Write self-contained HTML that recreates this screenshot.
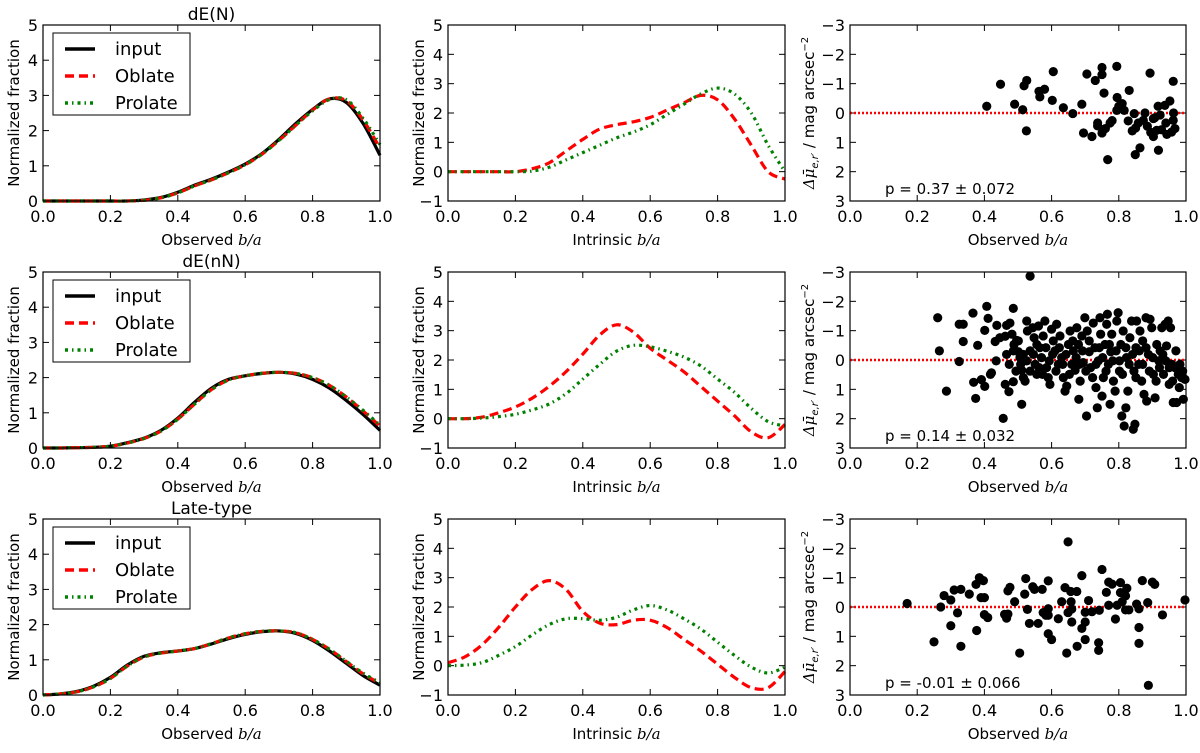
<!DOCTYPE html>
<html><head><meta charset="utf-8"><style>
html,body{margin:0;padding:0;background:#fff}
svg{display:block}
text{font-family:"DejaVu Sans","Liberation Sans",sans-serif;fill:#000}
</style></head><body>
<svg id="fig" width="1200" height="753" viewBox="0 0 1200 753" xmlns="http://www.w3.org/2000/svg"></svg>
<script>
// ---- data ----
const gridX = [0,0.05,0.1,0.15,0.2,0.25,0.3,0.35,0.4,0.45,0.5,0.55,0.6,0.65,0.7,0.75,0.8,0.85,0.9,0.95,1.0];
const xTicks = [0.0,0.2,0.4,0.6,0.8,1.0];
const xTickLabels = ["0.0","0.2","0.4","0.6","0.8","1.0"];
const rowTitles = ["dE(N)","dE(nN)","Late-type"];
const pLabels = ["p = 0.37 \u00b1 0.072","p = 0.14 \u00b1 0.032","p = -0.01 \u00b1 0.066"];
// observed b/a distributions
const obs1Input = [0,0,0,0,0,0,0.03,0.1,0.25,0.45,0.62,0.82,1.05,1.35,1.75,2.2,2.6,2.9,2.8,2.2,1.3];
const obs1Oblate = [0,0,0,0,0,0,0.02,0.09,0.23,0.43,0.6,0.8,1.03,1.33,1.72,2.15,2.58,2.9,2.85,2.3,1.5];
const obs1Prolate = [0,0,0,0,0,0,0.02,0.09,0.23,0.43,0.6,0.8,1.03,1.33,1.72,2.15,2.56,2.88,2.88,2.35,1.6];
const obs2Input = [0,0,0.01,0.02,0.05,0.15,0.28,0.5,0.85,1.3,1.7,1.95,2.05,2.12,2.15,2.1,1.95,1.7,1.35,0.95,0.5];
const obs2Oblate = [0,0,0.01,0.02,0.05,0.14,0.27,0.48,0.82,1.25,1.66,1.93,2.05,2.12,2.15,2.12,2.0,1.78,1.45,1.05,0.62];
const obs2Prolate = [0,0,0.01,0.02,0.05,0.14,0.27,0.48,0.82,1.25,1.66,1.93,2.05,2.12,2.15,2.12,2.0,1.78,1.45,1.07,0.65];
const obs3Input = [0,0.03,0.1,0.25,0.5,0.85,1.1,1.2,1.25,1.32,1.45,1.6,1.72,1.8,1.82,1.75,1.55,1.25,0.9,0.55,0.28];
const obs3Oblate = [0,0.03,0.09,0.23,0.47,0.82,1.08,1.19,1.25,1.32,1.46,1.62,1.74,1.81,1.82,1.77,1.58,1.3,0.95,0.6,0.33];
const obs3Prolate = [0,0.03,0.09,0.23,0.47,0.82,1.08,1.19,1.25,1.32,1.46,1.62,1.74,1.81,1.82,1.77,1.58,1.3,0.96,0.62,0.35];
// intrinsic b/a distributions
const int1Oblate = [0,0,0,0,0,0.1,0.3,0.7,1.1,1.45,1.6,1.7,1.85,2.1,2.35,2.6,2.45,1.8,0.9,0.0,-0.25];
const int1Prolate = [0,0,0,0,0,0.02,0.15,0.4,0.65,0.9,1.15,1.35,1.6,1.95,2.3,2.65,2.85,2.65,2.0,0.9,0.0];
const int2Oblate = [0,0,0.05,0.2,0.4,0.7,1.1,1.6,2.2,2.85,3.2,2.95,2.4,2.0,1.6,1.1,0.6,0.1,-0.45,-0.65,-0.2];
const int2Prolate = [0,0,0.02,0.07,0.15,0.3,0.5,0.85,1.35,1.85,2.3,2.5,2.45,2.3,2.1,1.8,1.35,0.9,0.35,-0.1,-0.25];
const int3Oblate = [0.1,0.3,0.7,1.3,2.0,2.6,2.9,2.6,1.85,1.45,1.4,1.55,1.55,1.3,0.9,0.5,0.05,-0.4,-0.75,-0.75,-0.2];
const int3Prolate = [0,0.02,0.1,0.35,0.65,1.05,1.4,1.6,1.6,1.55,1.65,1.9,2.05,1.9,1.6,1.25,0.8,0.35,-0.05,-0.25,-0.05];
// scatter: residual surface brightness
const sc1X = [0.407,0.448,0.49,0.514,0.518,0.526,0.525,0.5625,0.565,0.579,0.602,0.605,0.635,0.663,0.69,0.695,0.705,0.72,0.73,0.737,0.737,0.75,0.75,0.75,0.756,0.76,0.767,0.774,0.78,0.794,0.795,0.794,0.8,0.81,0.816,0.831,0.828,0.84,0.846,0.85,0.849,0.863,0.858,0.873,0.885,0.893,0.895,0.903,0.907,0.917,0.913,0.918,0.923,0.927,0.937,0.94,0.943,0.952,0.957,0.962,0.963,0.962,0.967,0.878,0.903];
const sc1Y = [-0.23,-0.98,-0.3,-0.11,-0.93,-1.11,0.61,-0.74,-0.55,-0.81,-0.43,-1.41,-0.18,0.02,-0.3,0.68,-1.33,0.8,-1.11,0.44,0.34,-1.31,-1.55,0.68,-0.68,0.53,1.59,0.34,0.26,-1.59,-0.53,-0.09,-0.23,-0.32,-0.09,-0.77,0.27,0.61,0.02,0.51,1.42,1.19,0.34,0.25,0.45,-1.36,0.66,0.8,0.16,-0.23,0.59,1.27,0.07,0.57,-0.26,0.34,0.73,-0.41,0.65,-1.08,0,0.25,0.53,0,0.19];
const sc2X = [0.261,0.266,0.287,0.325,0.337,0.337,0.325,0.366,0.380,0.368,0.374,0.391,0.401,0.407,0.411,0.401,0.421,0.418,0.437,0.435,0.432,0.456,0.462,0.473,0.486,0.486,0.511,0.536,
0.446,0.462,0.466,0.476,0.482,0.488,0.496,0.501,0.506,0.508,0.511,0.516,0.521,0.526,0.528,0.536,0.544,0.548,0.551,0.556,0.561,0.565,0.570,0.575,0.580,0.585,0.590,0.595,0.600,0.605,0.610,0.615,0.620,0.625,0.630,0.635,0.640,0.645,0.650,0.655,0.660,0.665,0.670,0.675,0.680,0.681,0.685,0.690,0.694,0.699,0.704,0.706,0.712,0.716,0.724,0.729,0.732,0.736,0.739,0.744,0.746,0.750,0.754,0.759,0.764,0.766,0.769,0.774,0.776,0.779,0.784,0.789,0.794,0.798,0.802,0.806,0.809,0.813,0.816,0.821,0.823,0.827,0.833,0.838,0.843,0.845,0.848,0.851,0.853,0.859,0.863,0.868,0.871,0.875,0.881,0.883,0.888,0.893,0.898,0.903,0.908,0.913,0.919,0.923,0.928,0.933,0.938,0.942,0.947,0.950,0.954,0.958,0.962,0.967,0.972,0.977,0.982,0.987,0.992,0.997,
0.466,0.474,0.486,0.494,0.501,0.516,0.526,0.536,0.546,0.556,0.563,0.573,0.583,0.593,0.603,0.613,0.623,0.633,0.643,0.653,0.663,0.673,0.683,0.692,0.702,0.712,0.722,0.732,0.742,0.752,0.762,0.772,0.782,0.792,0.802,0.811,0.821,0.831,0.841,0.851,0.861,0.871,0.881,0.891,0.901,0.911,0.921,0.931,0.940,0.950,0.960,0.970,0.980,0.990];
const sc2Y = [-1.44,-0.31,1.06,-1.22,-1.22,-0.63,0.05,-1.60,-0.50,0.76,1.31,0.67,0.90,-1.83,-1.42,-1.01,0.44,0.49,-1.18,0.03,-0.63,1.99,0.83,1.08,-1.76,0.74,1.51,-2.86,
-0.76,-0.81,-1.18,-1.26,-0.88,-0.53,-0.67,-0.28,-0.08,0.15,0.35,0.60,0.72,-1.33,-0.99,-0.31,-1.10,-0.76,0.15,0.49,-1.16,-0.42,-0.08,-0.82,-1.33,0.26,0.60,0.83,-1.05,-0.65,-0.31,-1.22,0.15,-0.82,-0.08,0.60,1.06,0.89,-0.53,-0.99,0.15,-0.31,0.35,-1.10,-0.53,1.34,0.72,-0.82,0.09,-1.44,1.91,-0.99,-0.28,0.26,-1.26,-0.42,0.94,1.63,0.03,-1.44,-0.88,1.23,0.60,-0.53,-1.22,-1.56,0.15,1.51,-0.28,-0.88,0.72,1.06,-1.33,-1.61,0.38,-0.53,1.91,-0.99,2.25,1.63,-0.08,1.06,-0.76,-1.33,2.36,0.38,2.19,-0.42,-1.33,0.15,-0.99,0.72,-0.65,1.17,-1.44,1.40,-0.19,-1.39,-1.10,0.49,1.29,-0.53,0.03,-0.31,-1.10,0.49,-1.22,-0.48,-1.33,0.83,-1.10,0.15,1.45,0.26,1.45,0.49,0.15,0.60,1.34,0.66,
-0.19,0.15,-0.31,0.38,-0.65,-0.19,0.03,0.38,-0.19,-0.53,0.26,0.49,-0.42,0.03,-0.19,0.38,-0.42,0.15,-0.19,0.49,-0.65,-0.08,0.15,-0.31,0.38,-0.65,0.60,0.15,-0.42,-0.08,0.38,-0.53,0.03,-0.31,0.03,0.49,-0.42,0.15,-0.19,0.60,-0.31,0.15,-0.42,0.38,-0.08,0.72,0.26,-0.19,0.03,0.26,0.72,-0.31,0.94,0.38];
const sc3X = [0.17,0.25,0.27,0.28,0.30,0.31,0.30,0.32,0.33,0.33,0.355,0.375,0.377,0.385,0.39,0.397,0.40,0.40,0.41,0.46,0.466,0.47,0.47,0.476,0.49,0.505,0.52,0.523,0.528,0.534,0.544,0.549,0.56,0.572,0.575,0.583,0.59,0.59,0.59,0.59,0.60,0.62,0.63,0.64,0.645,0.649,0.649,0.657,0.658,0.66,0.66,0.675,0.676,0.69,0.69,0.70,0.70,0.70,0.71,0.72,0.74,0.74,0.742,0.75,0.763,0.77,0.77,0.78,0.79,0.795,0.805,0.805,0.81,0.82,0.824,0.82,0.83,0.853,0.86,0.86,0.86,0.87,0.886,0.888,0.90,0.907,0.93,0.997];
const sc3Y = [-0.12,1.19,0,-0.39,-0.24,-0.58,0.64,0.2,1.34,-0.6,-0.44,-0.77,0.8,-1.0,-0.32,-0.9,-0.32,0.26,0.36,0.25,0.38,0.24,-0.55,-0.67,-0.18,1.57,-0.44,-0.97,0.08,0.56,-0.69,-0.6,0.56,-0.6,0.19,0.28,-0.89,0.06,0.91,0.28,1.11,0.4,-0.18,-0.66,1.57,-2.22,0.19,-0.53,-0.18,0.07,0.51,-0.53,1.34,0.73,-1.07,1.11,0.18,0.51,-0.22,0.16,1.22,1.48,0.11,-1.28,-0.5,-0.06,-0.85,-0.78,0.41,-0.06,-0.83,-0.49,-0.18,-0.38,-0.64,0.1,0.1,-0.1,0.7,0.06,1.24,-0.9,-0.15,2.67,-0.85,-0.77,0.27,-0.24];

// ---- layout ----
const NS="http://www.w3.org/2000/svg";
const svg=document.getElementById('fig');
const colL=[43,448,850], colW=[337,337,336], rowT=[25,272,519], H=176;
function el(tag,attrs,parent){const e=document.createElementNS(NS,tag);for(const k in attrs)e.setAttribute(k,attrs[k]);(parent||svg).appendChild(e);return e;}
function txt(x,y,s,attrs,parent){const t=el('text',Object.assign({x:x,y:y},attrs||{}),parent);t.textContent=s;return t;}
function smoothPath(pts){
  let d='M'+pts[0][0].toFixed(2)+','+pts[0][1].toFixed(2);
  for(let i=0;i<pts.length-1;i++){
    const p0=pts[Math.max(0,i-1)],p1=pts[i],p2=pts[i+1],p3=pts[Math.min(pts.length-1,i+2)];
    const c1=[p1[0]+(p2[0]-p0[0])/6,p1[1]+(p2[1]-p0[1])/6],c2=[p2[0]-(p3[0]-p1[0])/6,p2[1]-(p3[1]-p1[1])/6];
    d+=' C'+c1[0].toFixed(2)+','+c1[1].toFixed(2)+' '+c2[0].toFixed(2)+','+c2[1].toFixed(2)+' '+p2[0].toFixed(2)+','+p2[1].toFixed(2);
  }
  return d;
}
// yTop = value at top of axes, yBot = value at bottom
function makeAxes(r,c,yTop,yBot,yTicks,yLabels,xlabel){
  const g=el('g',{});
  
  
  const L=colL[c],W=colW[c],T=rowT[r];
  const sx=v=>L+v*W;
  const sy=v=>T+(v-yTop)/(yBot-yTop)*H;
  xTicks.forEach((v,i)=>{
    const x=sx(v);
    el('line',{x1:x,y1:T+H,x2:x,y2:T+H-6,stroke:'#000','stroke-width':1},g);
    el('line',{x1:x,y1:T,x2:x,y2:T+6,stroke:'#000','stroke-width':1},g);
    const t=txt(x,T+H+21,xTickLabels[i],{'text-anchor':'middle','font-size':'16'},g);
    
    
  });
  yTicks.forEach((v,i)=>{
    const y=sy(v);
    el('line',{x1:L,y1:y,x2:L+6,y2:y,stroke:'#000','stroke-width':1},g);
    el('line',{x1:L+W,y1:y,x2:L+W-6,y2:y,stroke:'#000','stroke-width':1},g);
    const t=txt(L-5,y+6,yLabels[i],{'text-anchor':'end','font-size':'16'},g);
    
    
  });
  const xl=el('text',{x:L+W/2,y:T+H+44,'text-anchor':'middle','font-size':'15'},g);
  
  
  xl.appendChild(document.createTextNode(xlabel+' '));
  const ts=el('tspan',{'font-family':'"DejaVu Serif","Liberation Serif",serif','font-style':'italic'},xl);ts.textContent='b/a';
  return {g,sx,sy,L,W,T};
}
function frame(ax){
  const f=el('rect',{x:ax.L,y:ax.T,width:ax.W,height:H,fill:'none',stroke:'#000','stroke-width':1.2},ax.g);
  
  
}
function curve(ax,ys,color,dash,name){
  const pts=gridX.map((x,i)=>[ax.sx(x),ax.sy(ys[i])]);
  const a={d:smoothPath(pts),fill:'none',stroke:color,'stroke-width':3.2};
  if(dash)a['stroke-dasharray']=dash;
  const p=el('path',a,ax.g);
  
  
}
const DASH_OBL='9,5', DASH_PRO='3,4,1.5,4';
function legend(ax){
  const g=el('g',{},ax.g);
  
  
  const x0=ax.L+10,y0=ax.T+8;
  el('rect',{x:x0,y:y0,width:137,height:82,fill:'#fff',stroke:'#000','stroke-width':1},g);
  const items=[['input','#000',null],['Oblate','#f00',DASH_OBL],['Prolate','#008000',DASH_PRO]];
  items.forEach((it,i)=>{
    const y=y0+16+i*27;
    const ln=el('line',{x1:x0+12,y1:y,x2:x0+42,y2:y,stroke:it[1],'stroke-width':3.5},g);
    if(it[2])ln.setAttribute('stroke-dasharray',it[2]);
    const t=txt(x0+62,y+6,it[0],{'font-size':'18'},g);
    
    
  });
}
const obsIn=[obs1Input,obs2Input,obs3Input],obsOb=[obs1Oblate,obs2Oblate,obs3Oblate],obsPr=[obs1Prolate,obs2Prolate,obs3Prolate];
const intOb=[int1Oblate,int2Oblate,int3Oblate],intPr=[int1Prolate,int2Prolate,int3Prolate];
const scX=[sc1X,sc2X,sc3X],scY=[sc1Y,sc2Y,sc3Y];
for(let r=0;r<3;r++){
  let ax=makeAxes(r,0,5,0,[0,1,2,3,4,5],['0','1','2','3','4','5'],'Observed');
  curve(ax,obsIn[r],'#000',null,'input-curve');
  curve(ax,obsOb[r],'#f00',DASH_OBL,'oblate-curve');
  curve(ax,obsPr[r],'#008000',DASH_PRO,'prolate-curve');
  frame(ax);legend(ax);
  const ti=txt(ax.L+ax.W/2,ax.T-5,rowTitles[r],{'text-anchor':'middle','font-size':'17'},ax.g);
  
  
  const yl=txt(0,0,'Normalized fraction',{'text-anchor':'middle','font-size':'15',transform:'translate(19,'+(ax.T+H/2)+') rotate(-90)'},ax.g);
  
  

  ax=makeAxes(r,1,5,-1,[-1,0,1,2,3,4,5],['\u22121','0','1','2','3','4','5'],'Intrinsic');
  curve(ax,intOb[r],'#f00',DASH_OBL,'oblate-intrinsic-curve');
  curve(ax,intPr[r],'#008000',DASH_PRO,'prolate-intrinsic-curve');
  frame(ax);
  const yl2=txt(0,0,'Normalized fraction',{'text-anchor':'middle','font-size':'15',transform:'translate(424,'+(ax.T+H/2)+') rotate(-90)'},ax.g);
  
  

  ax=makeAxes(r,2,-3,3,[-3,-2,-1,0,1,2,3],['\u22123','\u22122','\u22121','0','1','2','3'],'Observed');
  const zl=el('line',{x1:ax.L,y1:ax.sy(0),x2:ax.L+ax.W,y2:ax.sy(0),stroke:'#f00','stroke-width':2.5,'stroke-dasharray':'2,2'},ax.g);
  
  
  scX[r].forEach((x,i)=>{
    const c=el('circle',{cx:ax.sx(x),cy:ax.sy(scY[r][i]),r:4.6,fill:'#000'},ax.g);
    
    
  });
  frame(ax);
  const pt=txt(ax.L+35,ax.T+H-7,pLabels[r],{'font-size':'15'},ax.g);
  
  
  const yl3=el('text',{'text-anchor':'middle','font-size':'15',transform:'translate(814,'+(ax.T+H/2)+') rotate(-90)'},ax.g);
  
  
  const a1=el('tspan',{'font-family':'"DejaVu Serif",serif','font-style':'italic'},yl3);a1.textContent='\u0394\u03bc\u0304';
  const a2=el('tspan',{'font-size':'10','dy':'4','font-style':'italic'},yl3);a2.textContent='e,r\u2032';
  const a3=el('tspan',{'dy':'-4'},yl3);a3.textContent=' / mag arcsec';
  const a4=el('tspan',{'font-size':'10','dy':'-6'},yl3);a4.textContent='\u22122';
}
</script>
</body></html>
